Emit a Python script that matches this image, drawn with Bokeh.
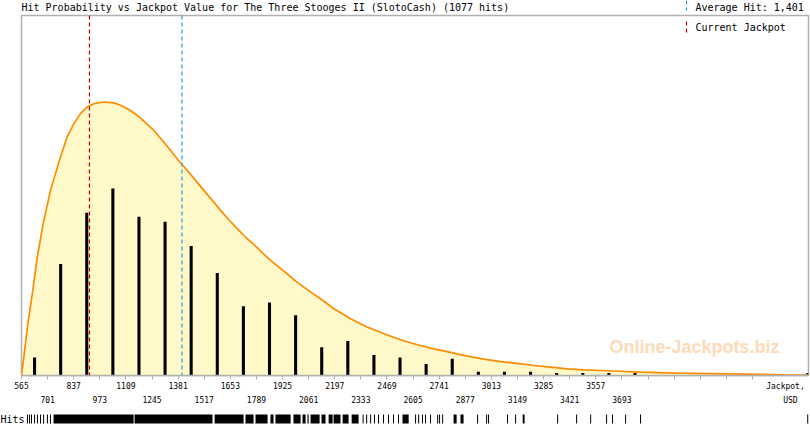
from bokeh.plotting import figure
from bokeh.models import Range1d, LinearAxis, FixedTicker, Span, Label, Arrow
from bokeh.layouts import column
from bokeh.embed import file_html
from bokeh.resources import INLINE

# ---------------- data ----------------
title_text = "Hit Probability vs Jackpot Value for The Three Stooges II (SlotoCash) (1077 hits)"
average_hit = 1401
current_jackpot = 919

# histogram of hits (bin centres in USD, hit counts)
bin_centers = [633, 769, 905, 1041, 1177, 1313, 1449, 1585, 1721, 1857, 1993, 2129,
               2265, 2401, 2537, 2673, 2809, 2945, 3081, 3217, 3353, 3489, 3625, 3761, 4661]
bin_counts = [14, 87, 127, 146, 124, 120, 101, 80, 54, 57, 47, 22,
              27, 16, 14, 9, 13, 3, 3, 3, 2, 2, 2, 2, 2]

# fitted probability curve (USD, scaled to hit-count units)
curve_x = [565, 577, 598, 624, 647, 678, 716, 768, 803, 838, 872, 907, 942, 994,
           1046, 1081, 1124, 1168, 1211, 1254, 1298, 1341, 1385, 1428, 1472, 1515,
           1559, 1602, 1645, 1689, 1732, 1775, 1819, 1862, 1906, 1949, 1993, 2036,
           2080, 2123, 2192, 2279, 2366, 2453, 2540, 2627, 2713, 2800, 2887, 2974,
           3061, 3148, 3234, 3321, 3408, 3495, 3582, 3650, 3796, 3973, 4244, 4541, 4661]
curve_y = [0, 14.3, 40.4, 66.4, 92.4, 118.5, 144.5, 170.6, 186.2, 196.6, 204.4, 209.6, 212.2, 213.5,
           212.8, 210.9, 207.6, 203.1, 197.4, 191.4, 183.6, 175.8, 167.4, 160.2, 152.3, 144.5,
           136.7, 128.9, 121.6, 114.6, 108.1, 102.3, 95.9, 89.8, 84.6, 79.4, 73.7, 69.0,
           64.3, 59.9, 52.1, 44.3, 37.8, 32.6, 27.9, 24.0, 20.8, 18.0, 15.1, 12.8,
           10.9, 9.4, 7.8, 6.5, 5.2, 4.4, 3.9, 3.5, 2.6, 1.8, 1.3, 0.6, 0.4]

# individual hits (rug): dense runs and single hits, USD
rug_run_start = [732, 1154, 1571, 1732, 1784, 1862, 1888, 1982, 2029, 2055, 2071, 2128,
                 2165, 2191, 2238, 2285, 2342, 2550, 2816, 2852, 3176]
rug_run_end = [1149, 1560, 1722, 1774, 1847, 1878, 1967, 2019, 2045, 2061, 2118, 2149,
               2186, 2227, 2269, 2321, 2347, 2582, 2832, 2868, 3186]
rug_hits = [596, 607, 617, 633, 648, 664, 680, 700, 716,
            2363, 2384, 2404, 2425, 2451, 2477, 2503, 2529,
            2618, 2634, 2654, 2670, 2696, 2733, 2743, 2759,
            2941, 2988, 2998, 3097, 3139,
            3358, 3457, 3530, 3613, 3644, 3712, 3790, 4661]

# x axis
x_start, x_end = 565, 4665
axis_ticks = [565, 701, 837, 973, 1109, 1245, 1381, 1517, 1653, 1789, 1925, 2061,
              2197, 2333, 2469, 2605, 2741, 2877, 3013, 3149, 3285, 3421, 3557, 3693,
              3829, 3965, 4101, 4237, 4373]
upper_tick_labels = ["565", "837", "1109", "1381", "1653", "1925", "2197", "2469",
                     "2741", "3013", "3285", "3557"]
lower_tick_labels = ["701", "973", "1245", "1517", "1789", "2061", "2333", "2605",
                     "2877", "3149", "3421", "3693"]
x_label_1 = "Jackpot,"
x_label_1_at = 4545
x_label_2 = "USD"
x_label_2_at = 4571
rug_label = "Hits"
watermark = "Online-Jackpots.biz"

# ---------------- styling ----------------
MONO = "DejaVu Sans Mono"
GRID = "#b0b0b0"
BLUE = "#2a96e0"
RED = "#cc0000"
W = 810
H_HEAD = 14
H_MAIN = 395
H_RUG = 16
LEFT = 21
RIGHT = 2
FRAME_W = W - LEFT - RIGHT
BOTTOM = 34
FRAME_H = H_MAIN - 1 - BOTTOM


def lab(text, x, y, size="10px", align="left", font=MONO, color="black", style="normal"):
    return Label(x=x, y=y, x_units="screen", y_units="screen", text=text,
                 text_font=font, text_font_size=size, text_align=align,
                 text_baseline="middle", text_color=color, text_font_style=style)


def vmark(x, y0, y1, color):
    return Arrow(end=None, x_start=x, y_start=y0, x_end=x, y_end=y1,
                 start_units="screen", end_units="screen", line_color=color,
                 line_dash="4 3", line_width=1.2)


def bare(height, left=LEFT, right=RIGHT, **kw):
    f = figure(width=W, height=height, x_axis_location=None, y_axis_location=None,
               output_backend="svg", toolbar_location=None, min_border=0,
               min_border_left=left, min_border_right=right, min_border_top=0,
               min_border_bottom=0, **kw)
    f.grid.visible = False
    f.outline_line_color = None
    f.background_fill_color = "white"
    f.border_fill_color = "white"
    return f


# ---- header row: title and first legend item ----
head = bare(H_HEAD, x_range=Range1d(0, 1), y_range=Range1d(0, 1))
head.add_layout(lab(title_text, 0, 7))
head.add_layout(lab(f"Average Hit: {average_hit:,}", 674, 7))
head.add_layout(vmark(665, H_HEAD, 4, BLUE))

# ---- main chart ----
p = figure(width=W, height=H_MAIN, x_range=Range1d(x_start, x_end), y_range=Range1d(0, 281),
           x_axis_location=None, y_axis_location=None,
           output_backend="svg", toolbar_location=None,
           min_border_left=LEFT, min_border_right=RIGHT, min_border_top=1,
           min_border_bottom=BOTTOM)
p.grid.visible = False
p.outline_line_color = GRID
p.outline_line_width = 1.5
p.background_fill_color = "white"
p.border_fill_color = "white"

p.add_layout(lab(watermark, 588, 29, size="18px", font="Liberation Sans",
                 color="#ffdab8", style="bold"))
p.varea(x=curve_x, y1=0, y2=curve_y, fill_color="#fff8c8", level="underlay")
p.vbar(x=bin_centers, width=16, bottom=0, top=bin_counts, fill_color="black", line_color=None)
p.line(curve_x, curve_y, line_color="#ff8c00", line_width=1.7)

p.add_layout(Span(location=current_jackpot, dimension="height", line_color=RED,
                  line_dash="4 3", line_width=1.2))
p.add_layout(Span(location=average_hit, dimension="height", line_color=BLUE,
                  line_dash="4 3", line_width=1.2))

p.add_layout(lab("Current Jackpot", 674, FRAME_H - 12))
p.add_layout(vmark(665, FRAME_H - 6, FRAME_H - 17, RED))

# axis: tick marks only
ax0 = LinearAxis(ticker=FixedTicker(ticks=axis_ticks, minor_ticks=[]),
                 major_label_overrides={t: "" for t in axis_ticks},
                 axis_line_color=GRID, axis_line_width=1.5,
                 major_tick_line_color=GRID, major_tick_in=0, major_tick_out=4,
                 minor_tick_line_color=None, major_label_standoff=0,
                 major_label_text_font_size="1px")
p.add_layout(ax0, "below")

upper_ticks = [int(l) for l in upper_tick_labels] + [x_label_1_at]
upper_map = {int(l): l for l in upper_tick_labels}
upper_map[x_label_1_at] = x_label_1
ax1 = LinearAxis(ticker=FixedTicker(ticks=upper_ticks, minor_ticks=[]),
                 major_label_overrides=upper_map,
                 axis_line_color=None, major_tick_line_color=None,
                 major_tick_in=0, major_tick_out=0, minor_tick_line_color=None,
                 major_label_standoff=2,
                 major_label_text_font=MONO, major_label_text_font_size="8px",
                 major_label_text_color="black")
p.add_layout(ax1, "below")

lower_ticks = [int(l) for l in lower_tick_labels] + [x_label_2_at]
lower_map = {int(l): l for l in lower_tick_labels}
lower_map[x_label_2_at] = x_label_2
ax2 = LinearAxis(ticker=FixedTicker(ticks=lower_ticks, minor_ticks=[]),
                 major_label_overrides=lower_map,
                 axis_line_color=None, major_tick_line_color=None,
                 major_tick_in=0, major_tick_out=0, minor_tick_line_color=None,
                 major_label_standoff=2,
                 major_label_text_font=MONO, major_label_text_font_size="8px",
                 major_label_text_color="black")
p.add_layout(ax2, "below")

# ---- rug of individual hits (own full-width frame, same USD-per-pixel scale) ----
upp = (x_end - x_start) / FRAME_W
r = bare(H_RUG, left=0, right=0,
         x_range=Range1d(x_start - LEFT * upp, x_end + RIGHT * upp), y_range=Range1d(-2, 14))
r.quad(left=rug_run_start, right=rug_run_end, bottom=0, top=9,
       fill_color="black", line_color=None)
r.vbar(x=rug_hits, width=upp, bottom=0, top=9, fill_color="black", line_color=None)
r.add_layout(lab(rug_label, 0, 6))

layout = column(head, p, column(r, spacing=0), spacing=0)
open("out.html", "w").write(file_html(layout, INLINE))
